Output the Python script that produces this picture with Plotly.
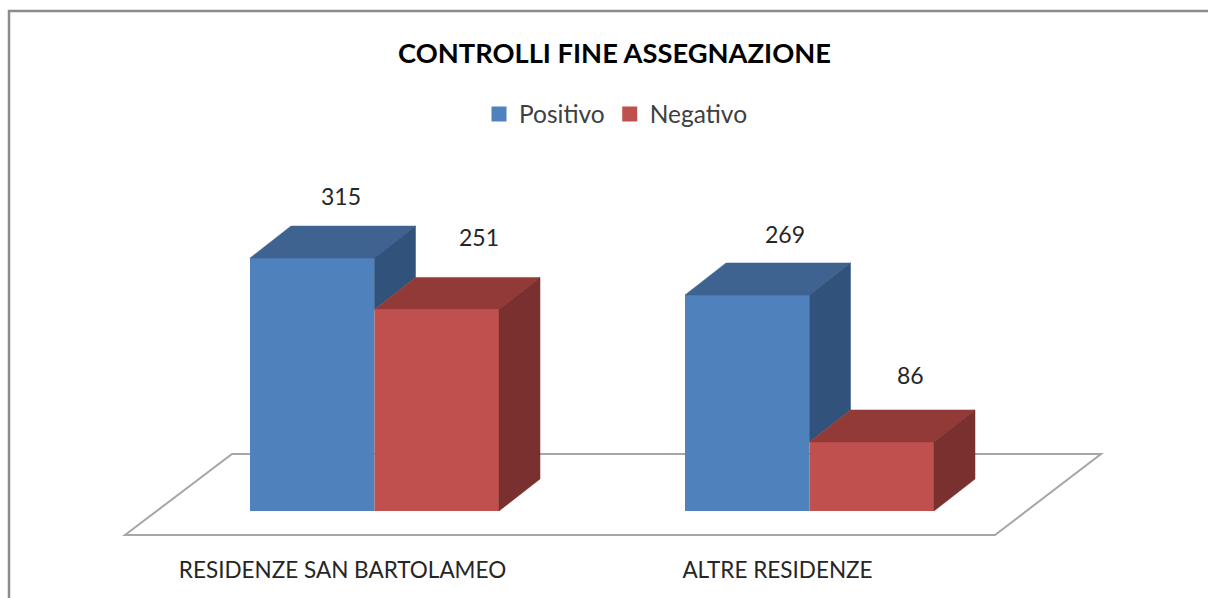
import plotly.graph_objects as go

# --- data ---
categories = ["RESIDENZE SAN BARTOLAMEO", "ALTRE RESIDENZE"]
positivo = [315, 269]
negativo = [251, 86]
series_names = ["Positivo", "Negativo"]
title_text = "CONTROLLI FINE ASSEGNAZIONE"

# --- style / geometry ---
W, H = 1208, 598
PLOT_BOTTOM = 548
BASE_PX = 511
PX_PER_UNIT = 0.803
CAT_PX = 435.0
CAT0_PX = 374.5
BAR_W = 124.5 / CAT_PX
DX = 41 / CAT_PX           # depth offset, x units
DY = 32 / PX_PER_UNIT      # depth offset, y units
BLUE, BLUE_TOP, BLUE_SIDE = "#4F81BD", "#3E6391", "#31527B"
RED, RED_TOP, RED_SIDE = "#C0504D", "#923A38", "#7A302E"
GREY = "#8C8C8C"
FLOOR_GREY = "#A6A6A6"
FONT = "Lato"

xr = [(0 - CAT0_PX) / CAT_PX, (W - CAT0_PX) / CAT_PX]
yr = [(BASE_PX - PLOT_BOTTOM) / PX_PER_UNIT, BASE_PX / PX_PER_UNIT]
xu = lambda p: (p - CAT0_PX) / CAT_PX
yu = lambda p: (BASE_PX - p) / PX_PER_UNIT

fig = go.Figure()
xs = list(range(len(categories)))

fig.add_bar(x=xs, y=positivo, name=series_names[0], offsetgroup="a", showlegend=False,
            marker=dict(color=BLUE, line_width=0))
fig.add_bar(x=xs, y=negativo, name=series_names[1], offsetgroup="b", showlegend=False,
            marker=dict(color=RED, line_width=0))


def face(px, py, color):
    fig.add_scatter(x=px + [px[0]], y=py + [py[0]], mode="lines", fill="toself",
                    fillcolor=color, line=dict(color=color, width=0.5),
                    hoverinfo="skip", showlegend=False)


for i in xs:
    p, n = positivo[i], negativo[i]
    xl, xm, xh = i - BAR_W, i, i + BAR_W
    face([xl, xl + DX, xm + DX, xm], [p, p + DY, p + DY, p], BLUE_TOP)
    face([xm, xm + DX, xm + DX, xm], [p, p + DY, n + DY, n], BLUE_SIDE)
    face([xm, xm + DX, xh + DX, xh], [n, n + DY, n + DY, n], RED_TOP)
    face([xh, xh + DX, xh + DX, xh], [n, n + DY, DY, 0], RED_SIDE)

# legend swatches (square markers, larger than the fixed bar swatch)
for name, color in zip(series_names, (BLUE, RED)):
    fig.add_scatter(x=[None], y=[None], mode="markers", name=name,
                    marker=dict(symbol="square", size=15, color=color))

# labels
label_shift = [[(29, 62), (42, 72)], [(38, 61), (39, 67)]]
for i in xs:
    for j, v in enumerate((positivo[i], negativo[i])):
        sx, sy = label_shift[i][j]
        fig.add_annotation(x=i + (j - 0.5) * BAR_W, y=v, text=str(v), showarrow=False,
                           xshift=sx, yshift=sy, font=dict(family=FONT, size=23, color="#262626"))

floor = [(125, 535), (232, 454), (1101, 454), (995, 535)]
path = "M " + " L ".join(f"{xu(a)},{yu(b)}" for a, b in floor) + " Z"
PH = PLOT_BOTTOM

fig.update_layout(
    width=W, height=H, autosize=False,
    margin=dict(l=0, r=0, t=0, b=H - PLOT_BOTTOM, pad=0),
    paper_bgcolor="white", plot_bgcolor="rgba(0,0,0,0)",
    barmode="group", bargap=1 - 2 * BAR_W, bargroupgap=0,
    font=dict(family=FONT, color="#262626"),
    title=dict(text=f"<b>{title_text}</b>", x=614.5 / W, xanchor="center",
               y=1 - 53 / H, yanchor="middle", font=dict(family=FONT, size=27.3, color="black")),
    legend=dict(orientation="h", x=479 / W, xanchor="left", y=1 - 114 / PH, yanchor="middle",
                font=dict(family=FONT, size=24.5, color="#404040"), bgcolor="rgba(0,0,0,0)",
                itemclick=False, itemdoubleclick=False),
    xaxis=dict(range=xr, tickmode="array", tickvals=[i - 32 / CAT_PX for i in xs], ticktext=categories,
               showgrid=False, zeroline=False, showline=False, ticks="", ticklabelstandoff=6,
               tickfont=dict(family=FONT, size=22.5, color="#262626")),
    yaxis=dict(range=yr, visible=False),
    shapes=[
        dict(type="path", path=path, xref="x", yref="y", layer="below",
             line=dict(color=FLOOR_GREY, width=2), fillcolor="white"),
        dict(type="path", xref="paper", yref="paper",
             path=f"M {9/W},{1-H/PH} L {9/W},{1-11/PH} L 1,{1-11/PH}",
             line=dict(color=GREY, width=2.5)),
    ],
    showlegend=True,
)

fig.write_html("out.html", config={"displayModeBar": False},
               post_script="document.body.style.margin='0';")
